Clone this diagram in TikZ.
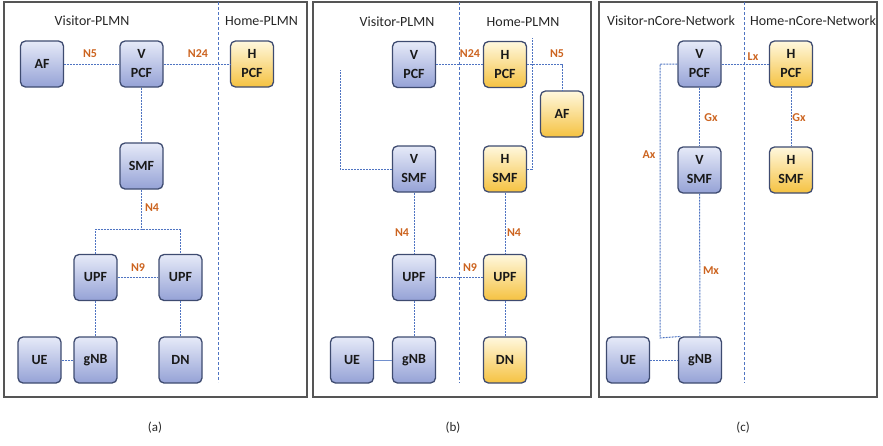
\documentclass[tikz,border=0pt]{standalone}
\usepackage{fontspec}
\setmainfont{Carlito}
\definecolor{boxline}{HTML}{3E4B70}
\definecolor{bluetop}{HTML}{E6EAF8}
\definecolor{bluebot}{HTML}{95A2D6}
\definecolor{yeltop}{HTML}{FFF8DE}
\definecolor{yelbot}{HTML}{F5C241}
\definecolor{link}{HTML}{4F74C2}
\definecolor{iface}{HTML}{CC6420}
\definecolor{frame}{HTML}{555555}
\tikzset{
  nf/.style={draw=boxline, line width=1.3pt, rounded corners=5pt,
    minimum width=43pt, minimum height=46pt, inner sep=0pt, align=center,
    font=\fontsize{14}{19}\selectfont\bfseries, text=black!90},
  vnf/.style={nf, top color=bluetop, bottom color=bluebot},
  hnf/.style={nf, top color=yeltop, bottom color=yelbot},
  link/.style={draw=link, line width=1pt, dash pattern=on 2pt off 1pt},
  solidlink/.style={draw=link!80, line width=0.9pt},
  divider/.style={draw=link, line width=1pt, dash pattern=on 3pt off 2pt},
  iflabel/.style={text=iface, font=\fontsize{12}{13}\selectfont\bfseries, inner sep=1pt},
  title/.style={font=\fontsize{14}{16}\selectfont, text=black!85, inner sep=0pt},
  caption/.style={font=\fontsize{13}{15}\selectfont, text=black!85, inner sep=0pt},
  panel/.style={draw=frame, line width=1.5pt}
}
\begin{document}
\begin{tikzpicture}[x=1pt, y=-1pt]
\useasboundingbox (0,0) rectangle (883,445);

% ---------- panel frames ----------
\draw[panel] (4,2) rectangle (307,397);
\draw[panel] (313,2) rectangle (591,397);
\draw[panel] (599,2) rectangle (877,397);

% ---------- (a) ----------
\draw[divider] (218,2) -- (218,382);
\node[title] (tva) at (92,21) {Visitor-PLMN};
\node[title, anchor=west] (tha) at (225,21) {Home-PLMN};

\node[vnf] (afA)   at (42,64)     {AF};
\node[vnf] (vpcfA) at (141.5,64)  {V\\PCF};
\node[hnf] (hpcfA) at (252,64)    {H\\PCF};
\node[vnf] (smfA)  at (141.5,166) {SMF};
\node[vnf] (upfA1) at (95.5,277.5) {UPF};
\node[vnf] (upfA2) at (180.5,277.5) {UPF};
\node[vnf] (ueA)   at (39.5,360)  {UE};
\node[vnf] (gnbA)  at (95.5,360)  {gNB};
\node[vnf] (dnA)   at (180.5,360) {DN};
\coordinate (brA) at (141.5,229);

\draw[link] (afA) -- (vpcfA);
\draw[link] (vpcfA) -- (hpcfA);
\draw[link] (vpcfA) -- (smfA);
\draw[link] (smfA) -- (brA);
\draw[link] (upfA1.north) |- (brA) -| (upfA2.north);
\draw[link] (upfA1) -- (upfA2);
\draw[link] (upfA1) -- (gnbA);
\draw[link] (ueA) -- (gnbA);
\draw[link] (upfA2) -- (dnA);

\node[iflabel] (n5a)  at (90,54)   {N5};
\node[iflabel] (n24a) at (198,54)  {N24};
\node[iflabel] (n4a)  at (152,208) {N4};
\node[iflabel] (n9a)  at (138,268) {N9};
\node[caption] (capa) at (155,428) {(a)};

% ---------- (b) ----------
\draw[divider] (459,2) -- (459,383);
\node[title] (tvb) at (397,22) {Visitor-PLMN};
\node[title] (thb) at (523,22) {Home-PLMN};

\node[vnf] (vpcfB) at (414,64.5) {V\\PCF};
\node[hnf] (hpcfB) at (505,64.5) {H\\PCF};
\node[hnf] (afB)   at (562,114)  {AF};
\node[vnf] (vsmfB) at (414,169)  {V\\SMF};
\node[hnf] (hsmfB) at (505,169)  {H\\SMF};
\node[vnf] (upfB1) at (414,277.5) {UPF};
\node[hnf] (upfB2) at (505,277.5) {UPF};
\node[vnf] (ueB)   at (352,360)  {UE};
\node[vnf] (gnbB)  at (414,360)  {gNB};
\node[hnf] (dnB)   at (505,360)  {DN};
\coordinate (vsmfEnd) at (340,70);
\coordinate (hsmfEnd) at (532,38);

\draw[link] (vpcfB) -- (hpcfB);
\draw[link] (hpcfB.east) -| (afB.north);
\draw[link] (vsmfB.west) -| (vsmfEnd);
\draw[link] (hsmfB.east) -| (hsmfEnd);
\draw[link] (vsmfB) -- (upfB1);
\draw[link] (hsmfB) -- (upfB2);
\draw[link] (upfB1) -- (upfB2);
\draw[link] (upfB1) -- (gnbB);
\draw[solidlink] (ueB) -- (gnbB);
\draw[link] (upfB2) -- (dnB);

\node[iflabel] (n24b) at (470,54)  {N24};
\node[iflabel] (n5b)  at (557,54)  {N5};
\node[iflabel] (n4b1) at (402,233) {N4};
\node[iflabel] (n4b2) at (514,233) {N4};
\node[iflabel] (n9b)  at (470,268) {N9};
\node[caption] (capb) at (453,428) {(b)};

% ---------- (c) ----------
\draw[divider] (744,2) -- (744,383);
\node[title] (tvc) at (671,21) {Visitor-nCore-Network};
\node[title] (thc) at (813,21) {Home-nCore-Network};

\node[vnf] (vpcfC) at (699.5,64)  {V\\PCF};
\node[hnf] (hpcfC) at (791,64)    {H\\PCF};
\node[vnf] (vsmfC) at (699.5,170) {V\\SMF};
\node[hnf] (hsmfC) at (791,170)   {H\\SMF};
\node[vnf] (ueC)   at (628,360)   {UE};
\node[vnf] (gnbC)  at (700,360)   {gNB};
\coordinate (axTurn) at (660,338);

\draw[link] (vpcfC) -- (hpcfC);
\draw[link] (vpcfC) -- (vsmfC);
\draw[link] (hpcfC) -- (hsmfC);
\draw[link] (vsmfC) -- (gnbC);
\draw[link] (vpcfC.west) -| (axTurn) -- ([xshift=3pt]gnbC.north west);
\draw[link] (ueC) -- (gnbC);

\node[iflabel] (lxc)  at (753,57)  {Lx};
\node[iflabel] (gxc1) at (711,118) {Gx};
\node[iflabel] (gxc2) at (799,118) {Gx};
\node[iflabel] (axc)  at (649,155) {Ax};
\node[iflabel] (mxc)  at (711,271) {Mx};
\node[caption] (capc) at (743,428) {(c)};
\end{tikzpicture}
\end{document}
